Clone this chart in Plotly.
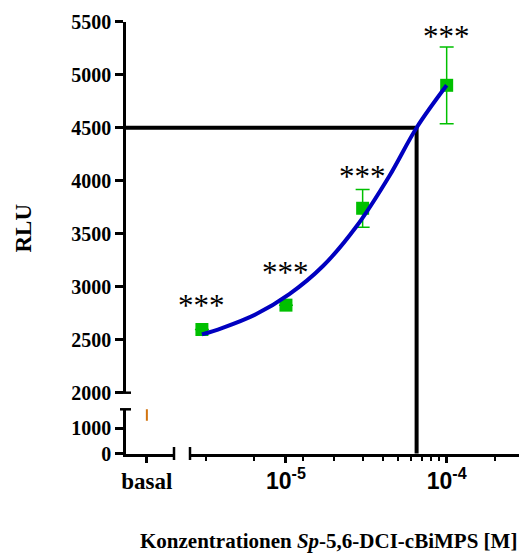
import math
import plotly.graph_objects as go

# ---------------- data ----------------
basal_label = ["basal"]
basal_mean = [1560]
basal_err = [260]

conc = [3e-6, 1e-5, 3e-5, 1e-4]
rlu_mean = [2596, 2826, 3740, 4900]
rlu_err = [0, 0, 178, 362]
stars = ["***", "***", "***", "***"]

fit_x = [3e-6, 4e-6, 6.5e-6, 1.05e-5, 1.7e-5, 2.75e-5, 4.4e-5, 6.5e-5, 1e-4]
fit_y = [2550, 2610, 2740, 2930, 3195, 3570, 4045, 4500, 4900]

ec_x = 6.5e-5
ec_y = 4500

x_major = [1e-5, 1e-4]
x_major_text = ["10<sup>-5</sup>", "10<sup>-4</sup>"]
x_minor = [3.18e-6, 6.32e-6, 1.276e-5, 2e-5, 3e-5, 4e-5, 5e-5, 6e-5, 7e-5, 8e-5, 9e-5, 2e-4]

y_low_ticks = [0, 1000]
y_high_ticks = [2000, 2500, 3000, 3500, 4000, 4500, 5000, 5500]

# ---------------- layout geometry ----------------
W, H = 519, 554
fx = lambda p: p / W
fy = lambda p: 1 - p / H

xd1 = [fx(126), fx(174)]
xd2 = [fx(190), 1.0]
xr2 = [-5.597, -3.550]
yd1 = [fy(453.5), fy(409.3)]
yr1 = [0, 1750]
yd2 = [fy(392.7), fy(21.7)]
yr2 = [2000, 5500]

serif = "Liberation Serif"
sans = "Liberation Sans"
LW = 2.5

fig = go.Figure()

fig.add_trace(go.Scatter(
    x=[0], y=basal_mean, xaxis="x", yaxis="y", mode="markers",
    marker=dict(size=1, color="rgba(0,0,0,0)"),
    error_y=dict(type="data", array=basal_err, color="#D2740F", thickness=2, width=0),
    cliponaxis=False, showlegend=False,
))

fig.add_trace(go.Scatter(
    x=conc, y=rlu_mean, xaxis="x2", yaxis="y2", mode="markers",
    marker=dict(symbol="square", size=13, color="#00C000"),
    error_y=dict(type="data", array=rlu_err, color="#00C000", thickness=1.5, width=7),
    cliponaxis=False, showlegend=False,
))

fig.add_trace(go.Scatter(
    x=fit_x, y=fit_y, xaxis="x2", yaxis="y2", mode="lines",
    line=dict(color="#0000C0", width=4, shape="spline"),
    showlegend=False,
))

axis_common = dict(showline=True, linecolor="black", linewidth=LW, ticks="outside",
                   tickcolor="black", tickwidth=LW, showgrid=False, zeroline=False,
                   automargin=False)

fig.update_layout(
    template="none",
    width=W, height=H,
    margin=dict(l=0, r=0, t=0, b=0),
    paper_bgcolor="white", plot_bgcolor="white",
    xaxis=dict(domain=xd1, range=[-1, 1.3], anchor="y", tickvals=[0], ticktext=basal_label,
               ticklen=7, ticklabelstandoff=-2,
               tickfont=dict(family=serif, size=23, color="black", weight="bold"),
               **axis_common),
    xaxis2=dict(domain=xd2, type="log", range=xr2, anchor="y", tickvals=x_major,
                ticktext=x_major_text, ticklen=7, ticklabelstandoff=-2,
                tickfont=dict(family=sans, size=23, color="black", weight="bold"),
                minor=dict(tickvals=x_minor, ticklen=5, tickwidth=2, tickcolor="black", ticks="outside"),
                **axis_common),
    yaxis=dict(domain=yd1, range=yr1, anchor="x", tickvals=y_low_ticks, ticklen=8,
               tickfont=dict(family=serif, size=20, color="black", weight="bold"),
               **axis_common),
    yaxis2=dict(domain=yd2, range=yr2, anchor="x", tickvals=y_high_ticks, ticklen=8,
                tickfont=dict(family=serif, size=20, color="black", weight="bold"),
                **axis_common),
)

# EC line helpers (paper positions computed from axis scales)
ec_xpaper = xd2[0] + (math.log10(ec_x) - xr2[0]) / (xr2[1] - xr2[0]) * (xd2[1] - xd2[0])
ec_ypaper = yd2[0] + (ec_y - yr2[0]) / (yr2[1] - yr2[0]) * (yd2[1] - yd2[0])

shapes = [
    dict(type="line", xref="paper", yref="paper", x0=xd1[0], x1=ec_xpaper, y0=ec_ypaper, y1=ec_ypaper,
         line=dict(color="black", width=4), layer="below"),
    dict(type="line", xref="paper", yref="paper", x0=ec_xpaper, x1=ec_xpaper, y0=yd1[0], y1=ec_ypaper,
         line=dict(color="black", width=4), layer="below"),
    # axis break caps
    dict(type="line", xref="paper", yref="paper", x0=fx(120), x1=fx(131), y0=yd1[1], y1=yd1[1],
         line=dict(color="black", width=LW)),
    dict(type="line", xref="paper", yref="paper", x0=fx(120), x1=fx(131), y0=yd2[0], y1=yd2[0],
         line=dict(color="black", width=LW)),
    dict(type="line", xref="paper", yref="paper", x0=xd1[1], x1=xd1[1], y0=fy(447), y1=fy(460),
         line=dict(color="black", width=LW)),
    dict(type="line", xref="paper", yref="paper", x0=xd2[0], x1=xd2[0], y0=fy(447), y1=fy(460),
         line=dict(color="black", width=LW)),
]
fig.update_layout(shapes=shapes)

star_shift = [24, 33, 13, 10]
annotations = []
for xv, m, e, s, sh in zip(conc, rlu_mean, rlu_err, stars, star_shift):
    annotations.append(dict(x=math.log10(xv), y=m + e, xref="x2", yref="y2", text=s, showarrow=False,
                            yshift=sh, font=dict(family=serif, size=31, color="black")))
annotations.append(dict(x=fx(22.5), y=fy(228), xref="paper", yref="paper", text="<b>RLU</b>",
                        textangle=-90, showarrow=False, xanchor="center", yanchor="middle",
                        font=dict(family=serif, size=23, color="black")))
annotations.append(dict(x=fx(328.5), y=fy(541), xref="paper", yref="paper",
                        text="<b>Konzentrationen <i>Sp</i>-5,6-DCI-cBiMPS [M]</b>",
                        xanchor="center", yanchor="middle",
                        showarrow=False, font=dict(family=serif, size=21, color="black")))
fig.update_layout(annotations=annotations)

fig.write_html("out.html", config={"displayModeBar": False},
               post_script="document.body.style.margin='0px';")
